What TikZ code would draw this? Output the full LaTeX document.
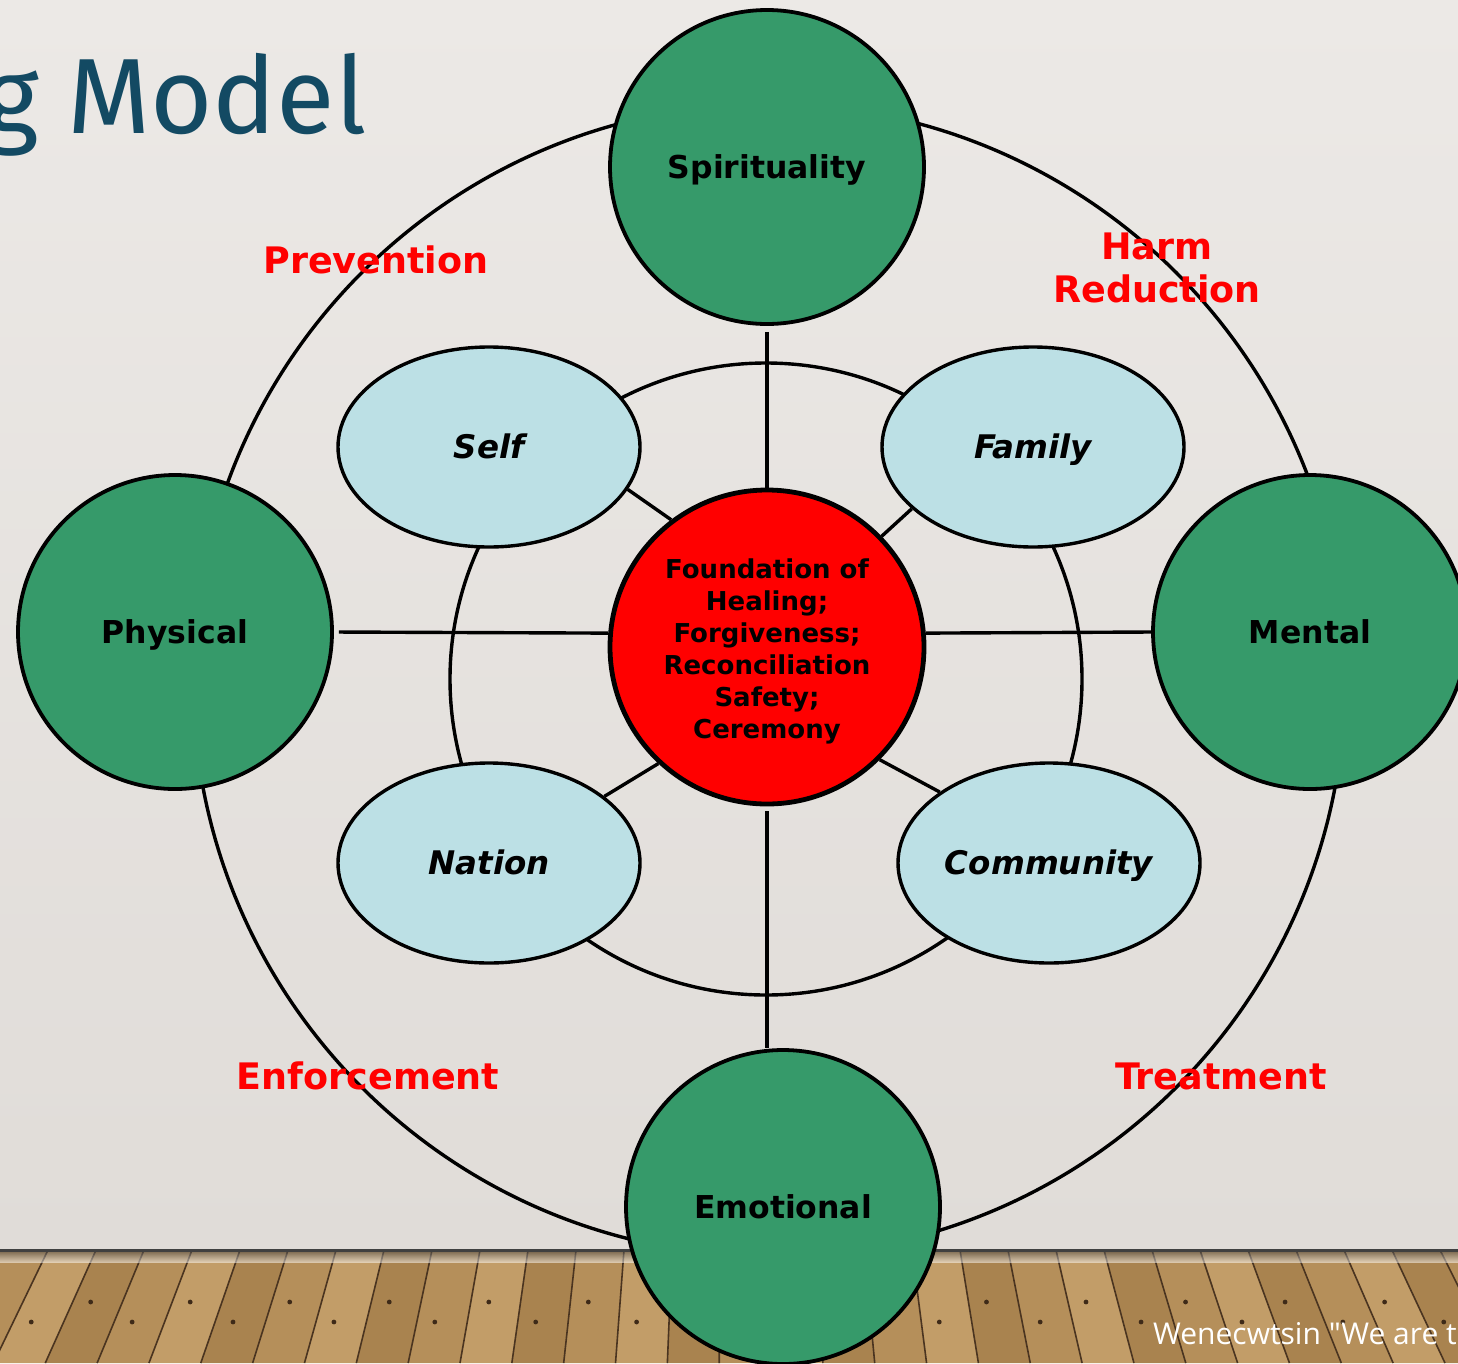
\documentclass[tikz,border=0pt]{standalone}
\usepackage{fontspec}
\setmainfont{DejaVu Sans}
\newfontfamily\titlefont{Fira Sans}
\newfontfamily\footfont{Open Sans}
\usetikzlibrary{shapes.geometric}
\definecolor{wallTop}{HTML}{ECE9E6}
\definecolor{wallBot}{HTML}{E0DCD8}
\definecolor{greenC}{HTML}{369A6A}
\definecolor{blueC}{HTML}{BCE0E5}
\definecolor{titleC}{HTML}{134A63}
\definecolor{woodA}{HTML}{B58F5A}
\definecolor{woodB}{HTML}{C29D68}
\definecolor{woodC}{HTML}{A9834F}
\definecolor{woodLine}{HTML}{4A3420}
\definecolor{nailC}{HTML}{3E2A18}
\begin{document}
\begin{tikzpicture}[x=1pt,y=-1pt,
  ring/.style={circle, draw=black, line width=3.4pt, inner sep=0pt},
  bigc/.style={circle, draw=black, line width=3.8pt, fill=greenC, inner sep=0pt, minimum size=314pt,
    font=\fontsize{31.5}{37}\selectfont\bfseries, text height=23pt, text depth=0pt},
  ovalc/.style={ellipse, draw=black, line width=3.4pt, fill=blueC, inner sep=0pt,
    minimum width=302pt, minimum height=200pt,
    font=\fontsize{32.5}{38}\selectfont\bfseries\itshape, text height=23.6pt, text depth=0pt},
  corec/.style={circle, draw=black, line width=4.8pt, fill=red, inner sep=0pt, minimum size=314pt,
    align=center, font=\fontsize{26}{32}\selectfont\bfseries},
  spoke/.style={draw=black, line width=3.4pt},
  quad/.style={text=red, align=center, inner sep=0pt, font=\fontsize{36.5}{43}\selectfont\bfseries}
]
\useasboundingbox (0,0) rectangle (1458,1363);
\clip (0,0) rectangle (1458,1363);
% wall
\shade[top color=wallTop, bottom color=wallBot] (0,0) rectangle (1458,1250);
% floor
\fill[woodA] (0,1250) rectangle (1458,1363);
\foreach \i in {-4,...,34}{
  \pgfmathsetmacro\xa{\i*48}
  \pgfmathsetmacro\xc{(\i+1)*48}
  \pgfmathsetmacro\xb{730+(\xa-730)*1.08}
  \pgfmathsetmacro\xd{730+(\xc-730)*1.08}
  \pgfmathtruncatemacro\m{mod(\i+12,3)}
  \ifcase\m\relax \def\pc{woodA}\or \def\pc{woodB}\else \def\pc{woodC}\fi
  \fill[\pc] (\xa,1250) -- (\xc,1250) -- (\xd,1363) -- (\xb,1363) -- cycle;
  \draw[woodLine, line width=1.6pt] (\xa,1250) -- (\xb,1363);
  \pgfmathtruncatemacro\r{mod(\i+12,2)}
  \pgfmathsetmacro\ny{1302+\r*20}
  \pgfmathsetmacro\nx{\xa+(\xb-\xa)*(\ny-1250)/113+18}
  \fill[nailC] (\nx,\ny) circle[radius=2.4pt];
}
\shade[top color=black!80, bottom color=woodA!0, opacity=0.5] (0,1250) rectangle (1458,1262);
\draw[line width=3pt, color=black!75] (0,1250) -- (1458,1250);

% title and footer
\node[anchor=base west, inner sep=0pt, text=titleC, font=\titlefont\fontsize{107}{115}\selectfont] (title) at (-17,133) {g Model};
\node[anchor=base west, inner sep=0pt, text=white, font=\footfont\fontsize{30}{35}\selectfont] (foot) at (1153,1344) {Wenecwtsin "We are t};

% rings
\node[ring, minimum size=1152pt] (outer) at (769,680) {};
\node[ring, minimum size=632pt] (inner) at (766,679) {};

% ellipses
\node[ovalc] (self) at (489,447) {Self};
\node[ovalc] (fam) at (1033,447) {Family};
\node[ovalc] (nat) at (489,863) {Nation};
\node[ovalc] (comm) at (1049,863) {Community};

% center
\node[corec] (ctr) at (767,647) {\rule{0pt}{28pt}Foundation of\\Healing;\\Forgiveness;\\Reconciliation\\Safety;\\Ceremony};

% four directions
\node[bigc] (spirit) at (767,167) {Spirituality};
\node[bigc] (phys) at (175,632) {Physical};
\node[bigc] (ment) at (1310,632) {Mental};
\node[bigc] (emot) at (783,1207) {Emotional};

% spokes
\draw[spoke, shorten <=6pt] (spirit.south) -- (ctr.north);
\draw[spoke, shorten <=5pt] (phys.east) -- (ctr.175);
\draw[spoke] (ment.west) -- (ctr.5);
\draw[spoke, shorten <=5pt] (ctr.south) -- (ctr.south |- emot.north);
\draw[spoke] (self.-17) -- (ctr.127);
\draw[spoke] (fam.-153) -- (ctr.44);
\draw[spoke] (nat.30) -- (ctr.-133);
\draw[spoke] (comm.147) -- (ctr.-45);

% quadrant labels
\node[quad] (prev) at (376,260) {Prevention};
\node[quad] (harm) at (1157,268) {Harm\\Reduction};
\node[quad] (enf) at (368,1076) {Enforcement};
\node[quad] (treat) at (1221,1076) {Treatment};
\end{tikzpicture}
\end{document}
